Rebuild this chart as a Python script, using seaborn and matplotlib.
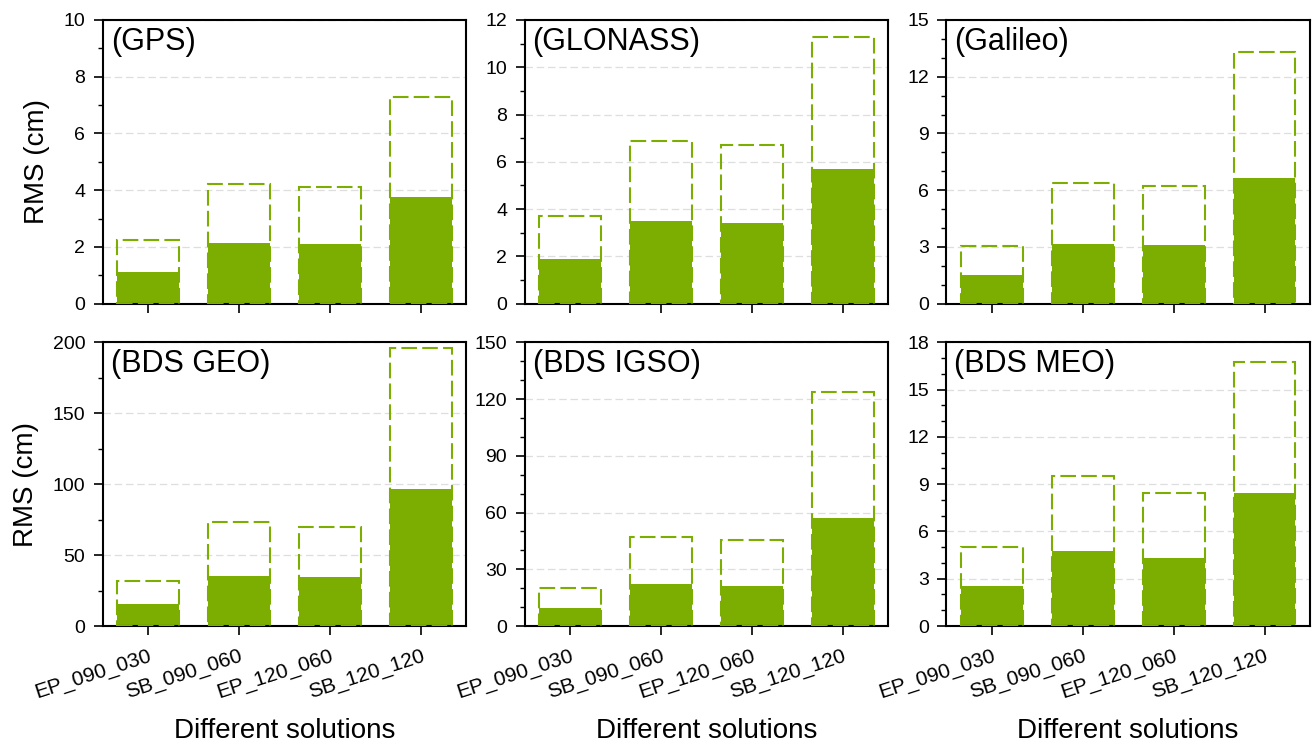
import matplotlib
matplotlib.use("Agg")
import matplotlib.pyplot as plt
from matplotlib.ticker import MultipleLocator
import seaborn as sns
import pandas as pd

sns.set_style("white")
plt.rcParams['font.family'] = ['Liberation Sans', 'DejaVu Sans']
for k in ["text.color", "axes.labelcolor", "xtick.color", "ytick.color"]:
    plt.rcParams[k] = "black"

solutions = ["EP_090_030", "SB_090_060", "EP_120_060", "SB_120_120"]
panels = ["(GPS)", "(GLONASS)", "(Galileo)", "(BDS GEO)", "(BDS IGSO)", "(BDS MEO)"]

gps_upper = [2.23, 4.23, 4.10, 7.28]
gps_lower = [1.12, 2.15, 2.09, 3.77]
glo_upper = [3.69, 6.90, 6.72, 11.28]
glo_lower = [1.90, 3.51, 3.42, 5.69]
gal_upper = [3.06, 6.39, 6.20, 13.29]
gal_lower = [1.53, 3.17, 3.12, 6.62]
geo_upper = [31.5, 73.2, 69.9, 195.8]
geo_lower = [15.3, 35.3, 34.6, 96.7]
igso_upper = [20.1, 47.1, 45.7, 123.9]
igso_lower = [9.7, 22.1, 21.4, 57.2]
meo_upper = [5.04, 9.49, 8.47, 16.75]
meo_lower = [2.56, 4.79, 4.30, 8.43]

uppers = [gps_upper, glo_upper, gal_upper, geo_upper, igso_upper, meo_upper]
lowers = [gps_lower, glo_lower, gal_lower, geo_lower, igso_lower, meo_lower]
ylims = [10, 12, 15, 200, 150, 18]
majors = [2, 2, 3, 50, 30, 3]
minors = [1, 1, 1, 25, 10, 1]

green = "#7BAE00"

fig, axes = plt.subplots(2, 3, figsize=(13.13, 7.45), dpi=100)
fig.subplots_adjust(left=0.0782, right=0.9977, top=0.9732, bottom=0.1597,
                    wspace=0.16, hspace=0.136)

for i, ax in enumerate(axes.flat):
    df = pd.DataFrame({"sol": solutions, "up": uppers[i], "low": lowers[i]})
    sns.barplot(data=df, x="sol", y="low", ax=ax, color=green, width=0.68,
                saturation=1, edgecolor=green, linewidth=0, zorder=2)
    n0 = len(ax.patches)
    sns.barplot(data=df, x="sol", y="up", ax=ax, fill=False, width=0.68,
                color=green, saturation=1, linewidth=1.5, zorder=3)
    for p in ax.patches[n0:]:
        p.set_facecolor("none")
        p.set_edgecolor(green)
        p.set_linestyle((0, (7.5, 2.5)))
        p.set_linewidth(1.5)
    ax.set_xlim(-0.5, 3.5)
    ax.set_ylim(0, ylims[i])
    ax.yaxis.set_major_locator(MultipleLocator(majors[i]))
    ax.yaxis.set_minor_locator(MultipleLocator(minors[i]))
    ax.set_axisbelow(True)
    ax.grid(axis="y", which="major", color="#dedede", linestyle=(0, (6, 3)), linewidth=0.9)
    for s in ax.spines.values():
        s.set_color("black")
        s.set_linewidth(1.5)
    ax.tick_params(axis="y", which="major", direction="out", length=6.5, width=1.2,
                   labelsize=14, left=True, pad=6)
    ax.tick_params(axis="y", which="minor", direction="out", length=3.3, width=1.0, left=True)
    ax.tick_params(axis="x", which="major", direction="out", length=6.5, width=1.2,
                   bottom=True, labelsize=15, pad=8)
    ax.text(0.022, 0.975, panels[i], transform=ax.transAxes, ha="left", va="top",
            fontsize=22)
    ax.set_xlabel("")
    ax.set_ylabel("")
    if i < 3:
        ax.set_xticklabels([])
    else:
        ax.set_xticks(range(len(solutions)))
        ax.set_xticklabels(solutions, rotation=18, ha="right", rotation_mode="anchor")
        ax.set_xlabel("Different solutions", fontsize=20, labelpad=12)
    if i % 3 == 0:
        ax.set_ylabel("RMS (cm)", fontsize=20, labelpad=10)

fig.savefig("out.png", dpi=100)
